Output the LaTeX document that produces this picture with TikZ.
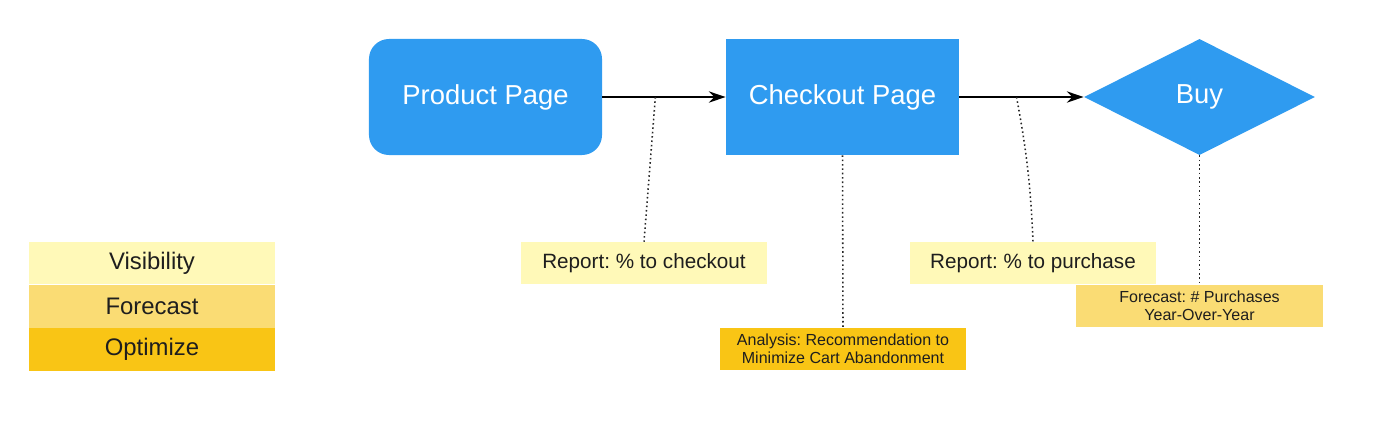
\documentclass[tikz,border=0pt]{standalone}
\usepackage{fontspec}
\setmainfont{Liberation Sans}
\usepackage{xcolor}
\usepackage{tikz}
\usetikzlibrary{shapes.geometric, arrows, arrows.meta, positioning}
\frenchspacing
\definecolor{pageblue}{RGB}{47,155,240}
\definecolor{visyellow}{RGB}{255,249,184}
\definecolor{foreyellow}{RGB}{250,220,116}
\definecolor{optyellow}{RGB}{249,197,21}
\definecolor{boxtext}{RGB}{30,30,30}
\tikzstyle{page} = [rectangle, 
minimum width=5.825cm, 
minimum height=2.9cm, 
text centered, 
fill=pageblue, 
text=white, 
font=\fontsize{19.5}{23}\selectfont]
\tikzstyle{pageround} = [page, rounded corners=0.5cm]
\tikzstyle{buydiamond} = [diamond, 
aspect=2, 
inner sep=0pt, 
minimum width=5.775cm, 
minimum height=2.9cm, 
text centered, 
fill=pageblue, 
text=white, 
font=\fontsize{19.5}{23}\selectfont]
\tikzstyle{report} = [rectangle, 
minimum width=6.15cm, 
minimum height=1.05cm, 
text centered, 
text=boxtext, 
fill=visyellow, 
font=\fontsize{14.7}{17}\selectfont]
\tikzstyle{twoline} = [rectangle, 
minimum width=6.15cm, 
minimum height=1.05cm, 
align=center, 
text=boxtext, 
font=\fontsize{11.4}{12.8}\selectfont]
\tikzstyle{legend} = [rectangle, 
minimum width=6.15cm, 
minimum height=1.07cm, 
text centered, 
text=boxtext, 
font=\fontsize{17}{20}\selectfont]
\tikzstyle{arrow} = [line width=1.2pt,->,>={Stealth[length=12pt,width=8pt]}]
\tikzstyle{dotline} = [dotted, line width=1.1pt, draw=black!85]
\begin{document}
\begin{tikzpicture}[x=0.025cm, y=-0.025cm]
\useasboundingbox (0,0) rectangle (1400,436);
\node (product) [pageround] at (485.5,97) {Product Page};
\node (checkout) [page] at (842.5,97) {Checkout Page};
\node (buy) [buydiamond] at (1199.5,97) {Buy};

\node (repcheckout) [report] at (644,263) {Report: \% to checkout};
\node (reppurchase) [report] at (1033,263) {Report: \% to purchase};
\node (analysis) [twoline, fill=optyellow] at (843,349) {Analysis: Recommendation to\\Minimize Cart Abandonment};
\node (forecast) [twoline, fill=foreyellow] at (1199.5,306) {Forecast: \# Purchases\\Year-Over-Year};

\node (vis) [legend, fill=visyellow] at (152,263) {Visibility};
\node (fore) [legend, fill=foreyellow, below=0pt of vis] {Forecast};
\node (opt) [legend, fill=optyellow, below=0pt of fore] {Optimize};

\draw [arrow] (product.east) -- coordinate[pos=0.43] (tocheckout) (checkout.west);
\draw [arrow] (checkout.east) -- coordinate[pos=0.46] (tobuy) (buy.west);

\draw [dotline] (tocheckout) -- (repcheckout.north);
\draw [dotline] (tobuy) to[bend left=4] (reppurchase.north);
\draw [dotline] (checkout.south) -- (analysis.north);
\draw [dotline] (buy.south) -- (forecast.north);

\end{tikzpicture}
\end{document}
